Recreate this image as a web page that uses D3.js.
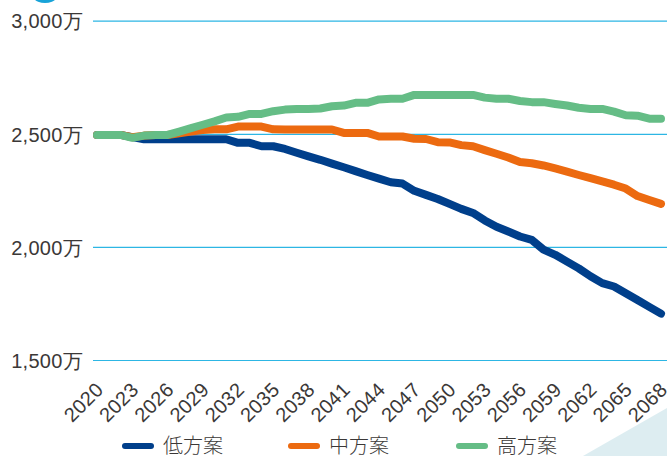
<!DOCTYPE html>
<html>
<head>
<meta charset="utf-8">
<script src="https://cdn.jsdelivr.net/npm/d3@7"></script>
<style>
  html, body { margin: 0; padding: 0; background: #fff; }
  svg { display: block; font-family: "Inter", "Noto Sans CJK JP", sans-serif; font-weight: 300; }
</style>
</head>
<body>
<svg id="chart" width="667" height="456"></svg>
<script>
// Population projection, unit: 万人
const years = d3.range(2020, 2069);
const tickYears = [2020, 2023, 2026, 2029, 2032, 2035, 2038, 2041, 2044, 2047, 2050, 2053, 2056, 2059, 2062, 2065, 2068];
const yTicks = [1500, 2000, 2500, 3000];

const lowValues = [
  2495, 2495, 2495, 2485, 2476, 2476, 2476, 2476, 2476, 2476, 2476, 2476,
  2460, 2460, 2445, 2445, 2433, 2416, 2400, 2385, 2368, 2352, 2335, 2318,
  2302, 2286, 2280, 2248, 2230, 2212, 2190, 2168, 2150, 2117, 2089, 2068,
  2046, 2031, 1988, 1965, 1935, 1905, 1870, 1840, 1825, 1795, 1765, 1735, 1705
];
const midValues = [
  2495, 2495, 2495, 2485, 2492, 2495, 2495, 2502, 2510, 2517, 2520, 2520,
  2532, 2532, 2532, 2520, 2519, 2519, 2519, 2519, 2519, 2504, 2504, 2504,
  2488, 2488, 2488, 2478, 2477, 2463, 2462, 2450, 2445, 2428, 2412, 2395,
  2375, 2370, 2360, 2347, 2333, 2318, 2304, 2290, 2275, 2258, 2225, 2207, 2190
];
const highValues = [
  2495, 2495, 2495, 2482, 2492, 2495, 2495, 2510, 2525, 2540, 2555, 2572,
  2575, 2588, 2588, 2600, 2607, 2610, 2610, 2612, 2622, 2625, 2637, 2637,
  2652, 2655, 2655, 2672, 2672, 2672, 2672, 2672, 2672, 2660, 2655, 2655,
  2645, 2640, 2640, 2632, 2625, 2615, 2610, 2610, 2598, 2582, 2580, 2567, 2567
];

const seriesNames = ["低方案", "中方案", "高方案"];
const seriesColors = ["#003f8b", "#ec6a10", "#65bd86"];
const seriesValues = [lowValues, midValues, highValues];

const svg = d3.select("#chart");

const x = d3.scaleLinear().domain([2020, 2068]).range([97, 661]);
const y = d3.scaleLinear().domain([1500, 3000]).range([360, 20.7]);

// decorative shapes
svg.append("circle").attr("cx", 45).attr("cy", -15).attr("r", 18).attr("fill", "#18a3d8");
svg.append("path")
  .attr("d", "M583,456 L667,408 L667,456 Z")
  .attr("fill", "#ddedf1");

// horizontal grid with labels
const yAxis = d3.axisLeft(y)
  .tickValues(yTicks)
  .tickSize(-574)
  .tickPadding(10)
  .tickFormat(d => d3.format(",")(d) + "万");

const gy = svg.append("g").attr("transform", "translate(93,0)").call(yAxis);
gy.select(".domain").remove();
gy.selectAll(".tick line").attr("stroke", "#2db6e4").attr("stroke-width", 1.2);
gy.selectAll(".tick text")
  .attr("fill", "#3b3837")
  .attr("font-size", 20)
  .attr("letter-spacing", 0.3)
  .attr("dy", "0.36em")
  .attr("x", -10);

// rotated year labels
const xAxis = d3.axisBottom(x)
  .tickValues(tickYears)
  .tickSize(0)
  .tickFormat(d3.format("d"));
const gx = svg.append("g").attr("transform", "translate(0,391)").call(xAxis);
gx.select(".domain").remove();
gx.selectAll(".tick text")
  .attr("fill", "#3b3837")
  .attr("font-size", 20)
  .attr("letter-spacing", 0.3)
  .attr("text-anchor", "end")
  .attr("y", 0)
  .attr("dy", 0)
  .attr("transform", "translate(7,0) rotate(-45)");

// series lines
const line = d3.line()
  .x((d, i) => x(years[i]))
  .y(d => y(d));

svg.append("g").selectAll("path")
  .data(seriesValues)
  .join("path")
  .attr("d", line)
  .attr("fill", "none")
  .attr("stroke", (d, i) => seriesColors[i])
  .attr("stroke-width", 8)
  .attr("stroke-linejoin", "round")
  .attr("stroke-linecap", "round");

// legend
const legendX = [122, 288, 456];
const lg = svg.append("g").selectAll("g")
  .data(seriesNames)
  .join("g")
  .attr("transform", (d, i) => `translate(${legendX[i]},446)`);
lg.append("line")
  .attr("x1", 3).attr("x2", 29)
  .attr("stroke", (d, i) => seriesColors[i])
  .attr("stroke-width", 6)
  .attr("stroke-linecap", "round");
lg.append("text")
  .attr("x", 41)
  .attr("dy", "0.36em")
  .attr("font-size", 20)
  .attr("fill", "#3b3837")
  .text(d => d);
</script>
</body>
</html>
